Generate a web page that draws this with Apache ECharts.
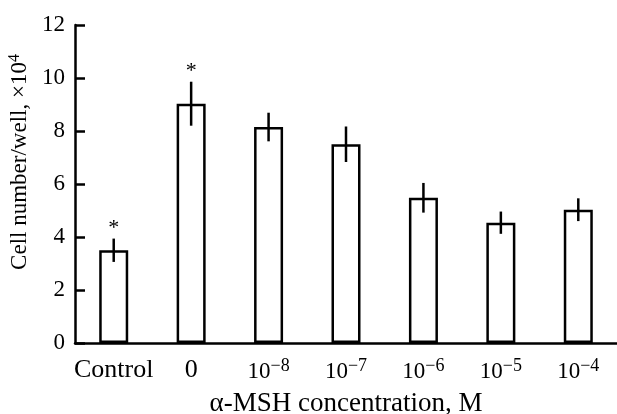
<!DOCTYPE html>
<html>
<head>
<meta charset="utf-8">
<script src="https://cdn.jsdelivr.net/npm/echarts@6/dist/echarts.min.js"></script>
<style>
  html, body { margin: 0; padding: 0; background: #fff; }
  #chart { width: 617px; height: 414px; }
</style>
</head>
<body>
<div id="chart"></div>
<script>
// categories (concentration of alpha-MSH)
var categories = ['Control', '0', '1e-8', '1e-7', '1e-6', '1e-5', '1e-4'];
// mean cell number per well, x10^4
var means = [3.5, 9.03, 8.15, 7.5, 5.48, 4.54, 5.03];
// error (+/-)
var errors = [0.44, 0.83, 0.54, 0.67, 0.56, 0.42, 0.43];
// significance marks
var stars = ['*', '*', '', '', '', '', ''];
var yTicks = [0, 2, 4, 6, 8, 10, 12];

var font = 'Liberation Serif';

var chart = echarts.init(document.getElementById('chart'));

function catLabel(v) {
  if (v.indexOf('1e') === 0) {
    return '10{sup|\u2212' + v.slice(3) + '}';
  }
  return '{big|' + v + '}';
}

chart.setOption({
  animation: false,
  grid: { left: 75, right: 0, top: 25, bottom: 71, containLabel: false, outerBoundsMode: 'none' },
  xAxis: {
    type: 'category',
    data: categories,
    boundaryGap: true,
    name: '\u03b1-MSH concentration, M',
    nameLocation: 'middle',
    nameGap: 47,
    nameTextStyle: { fontFamily: font, fontSize: 27, color: '#000' },
    axisLine: { lineStyle: { color: '#000', width: 2.5 } },
    axisTick: { inside: true, length: 10, lineStyle: { color: '#000', width: 2.5 } },
    axisLabel: {
      interval: 0,
      margin: 14,
      fontFamily: font,
      fontSize: 23,
      color: '#000',
      formatter: catLabel,
      rich: {
        big: { fontFamily: font, fontSize: 26, color: '#000' },
        sup: { fontFamily: font, fontSize: 18, color: '#000', verticalAlign: 'top', padding: [0, 0, 12, 0] }
      }
    },
    splitLine: { show: false }
  },
  yAxis: {
    type: 'value',
    min: yTicks[0],
    max: yTicks[yTicks.length - 1],
    interval: 2,
    name: 'Cell number/well, \u00d710{sup|4}',
    nameLocation: 'middle',
    nameGap: 32,
    nameTextStyle: {
      fontFamily: font, fontSize: 23, color: '#000',
      padding: [0, 0, 0, 44],
      rich: { sup: { fontFamily: font, fontSize: 16, color: '#000', verticalAlign: 'top', padding: [0, 0, 10, 0] } }
    },
    axisLine: { show: true, lineStyle: { color: '#000', width: 2.5 } },
    axisTick: { show: true, inside: true, length: 10, lineStyle: { color: '#000', width: 2.5 } },
    axisLabel: { margin: 10, fontFamily: font, fontSize: 23, color: '#000' },
    splitLine: { show: false }
  },
  series: [
    {
      type: 'bar',
      data: means,
      barWidth: 29,
      itemStyle: { color: '#fff', borderColor: '#000', borderWidth: 2.5 }
    },
    {
      type: 'custom',
      data: means.map(function (m, i) { return [i, m, errors[i]]; }),
      z: 5,
      renderItem: function (params, api) {
        var i = api.value(0);
        var m = api.value(1);
        var e = api.value(2);
        var top = api.coord([i, m + e]);
        var bot = api.coord([i, m - e]);
        var children = [{
          type: 'line',
          shape: { x1: top[0], y1: top[1], x2: bot[0], y2: bot[1] },
          style: { stroke: '#000', lineWidth: 2.5 }
        }];
        if (stars[i]) {
          children.push({
            type: 'text',
            style: {
              text: stars[i], x: top[0], y: top[1] + 1,
              align: 'center', verticalAlign: 'bottom',
              font: '22px ' + font, fill: '#000'
            }
          });
        }
        return { type: 'group', children: children };
      }
    }
  ]
});
</script>
</body>
</html>
